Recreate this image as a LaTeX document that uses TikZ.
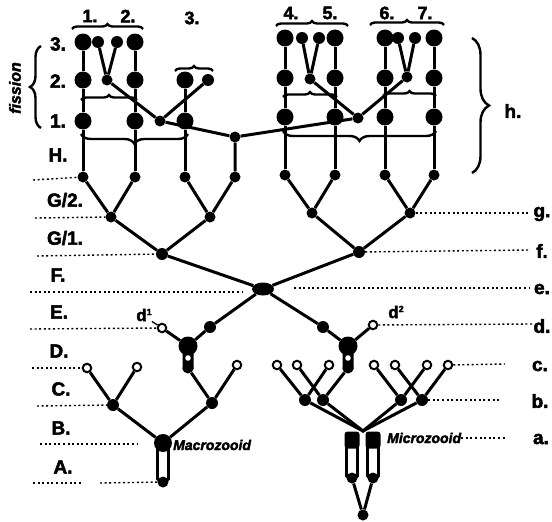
\documentclass[tikz,border=0pt]{standalone}
\usepackage{fontspec}
\setmainfont{Liberation Sans}[BoldFeatures={FakeBold=2.5},BoldItalicFeatures={FakeBold=2.5}]
\usetikzlibrary{decorations.pathreplacing,shapes.geometric}
\begin{document}
\begin{tikzpicture}[x=1pt,y=-1pt,
  big/.style={circle,fill=black,inner sep=0pt,minimum size=17pt},
  sml/.style={circle,fill=black,inner sep=0pt,minimum size=12pt},
  jn/.style={circle,fill=black,inner sep=0pt,minimum size=11pt},
  opn/.style={circle,draw=black,fill=white,line width=2pt,inner sep=0pt,minimum size=8.5pt},
  ln/.style={line width=3pt},
  dotl/.style={line width=1.4pt,dash pattern=on 2pt off 2.6pt},
  brc/.style={line width=2.4pt,decorate,decoration={brace,amplitude=#1}},
  lab/.style={font=\fontsize{19}{19}\selectfont\bfseries,inner sep=0pt},
  tlab/.style={font=\fontsize{18}{18}\selectfont\bfseries,inner sep=0pt},
  itl/.style={font=\fontsize{14}{14}\selectfont\bfseries\itshape,inner sep=0pt}]
\useasboundingbox (0,0) rectangle (552,522);
% ---------- upper left group
\node[big] (L1a) at (83,42) {};
\node[big] (L1b) at (83,80) {};
\node[big] (L1c) at (83,121) {};
\node[jn] (L1d) at (83,177) {};
\node[big] (L2a) at (135,42) {};
\node[big] (L2b) at (135,80) {};
\node[big] (L2c) at (135,121) {};
\node[jn] (L2d) at (135,177) {};
\node[sml] (Ls1) at (98,42) {};
\node[sml] (Ls2) at (117,42) {};
\node[jn] (Lj) at (107,80) {};
\node[big] (L3b) at (185,80) {};
\node[big] (L3c) at (185,121) {};
\node[jn] (L3d) at (185,177) {};
\node[sml] (L3s) at (208,80) {};
\node[jn] (J1) at (160,121) {};
\node[jn] (Hn) at (235,137) {};
\node[jn] (Hd) at (235,177) {};
% ---------- upper right groups
\foreach \c/\x in {R4/285,R5/335,R6/385,R7/434}{
  \node[big] (\c a) at (\x,38) {};
  \node[big] (\c b) at (\x,78) {};
  \node[big] (\c c) at (\x,117) {};
  \node[jn] (\c d) at (\x,175) {};
  \draw[ln] (\c a) -- (\c b) -- (\c c) -- (\c d);
}
\node[sml] (Rs1) at (302,38) {};
\node[sml] (Rs2) at (319,38) {};
\node[jn] (Rj) at (310,79) {};
\node[sml] (Rs3) at (398,38) {};
\node[sml] (Rs4) at (415,38) {};
\node[jn] (Rj2) at (407,77) {};
\node[jn] (J2) at (358,118) {};
\draw[ln] (L1a) -- (L1b) -- (L1c) -- (L1d);
\draw[ln] (L2a) -- (L2b) -- (L2c) -- (L2d);
\draw[ln] (L3b) -- (L3c) -- (L3d);
\draw[ln] (Ls1) -- (Lj) -- (Ls2);
\draw[ln] (Lj) -- (J1) -- (L3s);
\draw[ln] (J1) -- (Hn) -- (Hd);
\draw[ln] (Hn) -- (J2);
\draw[ln] (Rs1) -- (Rj) -- (Rs2);
\draw[ln] (Rs3) -- (Rj2) -- (Rs4);
\draw[ln] (Rj) -- (J2) -- (Rj2);
% braces upper
\draw[brc=5pt] (72,29) -- (143,29);
\draw[brc=5pt] (276,26) -- (348,26);
\draw[brc=5pt] (370,25) -- (444,25);
\draw[brc=5pt] (175,71) -- (213,71);
\draw[brc=5pt] (81,100) -- (137,100);
\draw[brc=5pt] (283,97) -- (337,97);
\draw[brc=5pt] (383,96) -- (436,96);
\draw[brc=10pt,decoration={mirror}] (81,134) -- (188,134);
\draw[brc=10pt,decoration={mirror}] (283,131) -- (436,131);
\draw[brc=11pt] (41,128) -- (41,46);
\draw[brc=17pt] (472,38) -- (472,173);
% top labels
\node[tlab] at (90,16) {1.};
\node[tlab] at (128,16) {2.};
\node[tlab] at (192,18) {3.};
\node[tlab] at (291,13) {4.};
\node[tlab] at (330,13) {5.};
\node[tlab] at (387,13) {6.};
\node[tlab] at (425,13) {7.};
\node[lab] at (513,111) {h.};
\node[rotate=90,font=\fontsize{16}{16}\selectfont\bfseries\itshape,inner sep=0pt] at (15,88) {fission};
% ---------- middle
\node[jn] (g1) at (111,217) {};
\node[jn] (g2) at (210,217) {};
\node[sml] (f1) at (162,254) {};
\node[jn] (g3) at (312,213) {};
\node[jn] (g4) at (410,213) {};
\node[sml] (f2) at (359,252) {};
\node[ellipse,fill=black,inner sep=0pt,minimum width=22pt,minimum height=13pt] (C) at (263,289) {};
\draw[ln] (L1d) -- (g1) -- (L2d);
\draw[ln] (L3d) -- (g2) -- (Hd);
\draw[ln] (g1) -- (f1) -- (g2);
\draw[ln] (R4d) -- (g3) -- (R5d);
\draw[ln] (R6d) -- (g4) -- (R7d);
\draw[ln] (g3) -- (f2) -- (g4);
\draw[ln] (f1) -- (C) -- (f2);
% lower blobs D
\fill[rounded corners=2pt] (182.5,346) rectangle (193.5,371);
\fill[rounded corners=2pt] (342.5,346) rectangle (353.5,371);
\node[big,minimum size=19pt] (D1) at (188,346) {};
\node[jn] (D1b) at (188,368) {};
\node[big,minimum size=19pt] (D2) at (348,346) {};
\node[jn] (D2b) at (348,368) {};
\fill[white] (188,358) circle (2.8pt);
\fill[white] (348,358) circle (2.8pt);
\node[sml] (e1) at (210,327) {};
\node[sml] (e2) at (323,327) {};
\node[opn] (d1) at (162,328) {};
\node[opn] (d2) at (373,325) {};
\draw[ln] (C) -- (e1) -- (D1);
\draw[ln] (C) -- (e2) -- (D2);
\draw[ln] (d1) -- (D1);
\draw[ln] (d2) -- (D2);
\node[lab,font=\fontsize{17}{17}\selectfont\bfseries] (d1l) at (144,315) {d\raisebox{6pt}{\fontsize{9}{9}\selectfont 1}};
\node[lab,font=\fontsize{17}{17}\selectfont\bfseries] (d2l) at (396,312) {d\raisebox{6pt}{\fontsize{9}{9}\selectfont 2}};
\draw[line width=1.3pt] (d1l.south east) -- (d1);
% ---------- lower left (macrozooid)
\node[opn] (Lc1) at (87,368) {};
\node[opn] (Lc2) at (137,367) {};
\node[opn] (Lc3) at (237,365) {};
\node[sml] (Lb1) at (113,405) {};
\node[sml] (Lb2) at (212,403) {};
\draw[line width=2.8pt,fill=white,rounded corners=1pt] (157.5,447) rectangle (168.5,480);
\node[big,minimum size=18pt] (M) at (163,443) {};
\node[jn] (Mb) at (163,482) {};
\draw[ln] (Lc1) -- (Lb1) -- (Lc2);
\draw[ln] (D1b) -- (Lb2) -- (Lc3);
\draw[ln] (Lb1) -- (M) -- (Lb2);
\node[itl,anchor=west] (Mac) at (173,445) {Macrozooid};
% ---------- lower right (microzooid)
\foreach \n/\x in {Rc1/277,Rc2/297,Rc3/329,Rc5/374,Rc6/395,Rc7/427,Rc8/448}{
  \node[opn] (\n) at (\x,365) {};
}
\node[sml] (Rb1) at (305,400) {};
\node[sml] (Rb2) at (323,400) {};
\node[sml] (Rb3) at (401,400) {};
\node[sml] (Rb4) at (422,400) {};
\coordinate (conv) at (363,431);
\draw[ln] (Rc1) -- (Rb1) -- (Rc3);
\draw[ln] (Rc2) -- (Rb2) -- (D2b);
\draw[ln] (Rc5) -- (Rb3) -- (Rc7);
\draw[ln] (Rc6) -- (Rb4) -- (Rc8);
\draw[ln] (Rb1) -- (conv) -- (Rb4);
\draw[ln] (Rb2) -- (conv) -- (Rb3);
\draw[line width=2.8pt,fill=white,rounded corners=1pt] (346.5,444) rectangle (357.5,477);
\draw[line width=2.8pt,fill=white,rounded corners=1pt] (367.5,444) rectangle (378.5,477);
\node[rectangle,rounded corners=3pt,fill=black,inner sep=0pt,minimum width=15pt,minimum height=17pt] (Mi1) at (352,440) {};
\node[rectangle,rounded corners=3pt,fill=black,inner sep=0pt,minimum width=15pt,minimum height=17pt] (Mi2) at (373,440) {};
\node[jn] (Mib1) at (352,478) {};
\node[jn] (Mib2) at (373,478) {};
\node[jn] (Mv) at (363,515) {};
\draw[ln] (Mib1) -- (Mv) -- (Mib2);
\node[itl,anchor=west] (Mic) at (387,438) {Microzooid};
% ---------- left labels
\node[lab] at (58,44) {3.};
\node[lab] at (58,81) {2.};
\node[lab] at (58,121) {1.};
\node[lab] at (58,155) {H.};
\node[lab] at (65,200) {G/2.};
\node[lab] at (65,238) {G/1.};
\node[lab] at (58,275) {F.};
\node[lab] at (59,312) {E.};
\node[lab] at (59,351) {D.};
\node[lab] at (61,389) {C.};
\node[lab] at (61,428) {B.};
\node[lab] at (63,467) {A.};
% right labels
\node[lab] at (542,214) {g.};
\node[lab] at (542,251) {f.};
\node[lab] at (542,289) {e.};
\node[lab] at (542,326) {d.};
\node[lab] at (540,366) {c.};
\node[lab] at (540,401) {b.};
\node[lab] at (541,439) {a.};
% ---------- dotted level lines
\coordinate (p1) at (33,180);  \draw[dotl] (p1) -- (L1d);
\coordinate (p2) at (35,218);  \draw[dotl] (p2) -- (g1);
\coordinate (p3) at (37,256);  \draw[dotl] (p3) -- (f1);
\coordinate (p4) at (30,292);  \coordinate (p4e) at (243,292); \draw[dotl] (p4) -- (p4e);
\coordinate (p5) at (30,329);  \draw[dotl] (p5) -- (d1);
\coordinate (p6) at (32,368);  \draw[dotl] (p6) -- (Lc1);
\coordinate (p7) at (37,406);  \draw[dotl] (p7) -- (Lb1);
\coordinate (p8) at (40,444);  \coordinate (p8e) at (137,444); \draw[dotl] (p8) -- (p8e);
\coordinate (p9) at (33,483);  \coordinate (p9e) at (83,483); \draw[dotl] (p9) -- (p9e);
\coordinate (p9f) at (100,483); \draw[dotl] (p9f) -- (Mb);
\coordinate (q1) at (530,213); \draw[dotl] (g4) -- (q1);
\coordinate (q2) at (530,250); \draw[dotl] (f2) -- (q2);
\coordinate (q3a) at (294,288); \coordinate (q3) at (529,288); \draw[dotl] (q3a) -- (q3);
\coordinate (q4) at (532,324); \draw[dotl] (d2) -- (q4);
\coordinate (q5) at (505,364); \draw[dotl] (Rc8) -- (q5);
\coordinate (q6) at (500,400); \draw[dotl] (Rb4) -- (q6);
\coordinate (q7) at (505,438); \draw[dotl] (Mic) -- (q7);
\end{tikzpicture}
\end{document}
